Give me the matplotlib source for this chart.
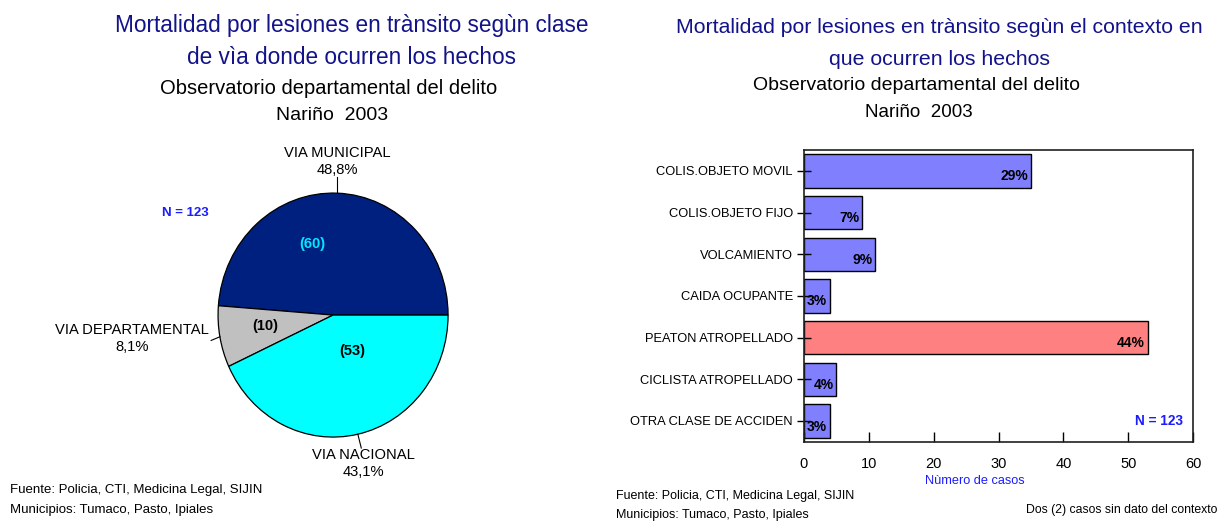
import numpy as np
import matplotlib.pyplot as plt

# ============================================================
# Datos
# ============================================================

clases_via = ["VIA MUNICIPAL", "VIA DEPARTAMENTAL", "VIA NACIONAL"]
casos_via = [60, 10, 53]
pct_via = ["48,8%", "8,1%", "43,1%"]
colores_via = ["#00207f", "#c0c0c0", "#00ffff"]

contextos = [
    "COLIS.OBJETO MOVIL",
    "COLIS.OBJETO FIJO",
    "VOLCAMIENTO",
    "CAIDA OCUPANTE",
    "PEATON ATROPELLADO",
    "CICLISTA ATROPELLADO",
    "OTRA CLASE DE ACCIDEN",
]
casos_contexto = [35, 9, 11, 4, 53, 5, 4]
pct_contexto = ["29%", "7%", "9%", "3%", "44%", "4%", "3%"]
ticks_x = [0, 10, 20, 30, 40, 50, 60]

AZUL_TITULO = "#12128a"
AZUL_N = "#1c1cff"

plt.rcParams["font.family"] = ["Liberation Sans", "DejaVu Sans"]

fig = plt.figure(figsize=(12.2, 5.21), dpi=100)

# ============================================================
# Títulos
# ============================================================

fig.text(0.288, 0.952, "Mortalidad por lesiones en trànsito segùn clase",
         ha="center", va="center", fontsize=16.3, color=AZUL_TITULO)
fig.text(0.288, 0.889, "de vìa donde ocurren los hechos",
         ha="center", va="center", fontsize=16.3, color=AZUL_TITULO)
fig.text(0.269, 0.831, "Observatorio departamental del delito",
         ha="center", va="center", fontsize=14.5)
fig.text(0.272, 0.779, "Nariño  2003",
         ha="center", va="center", fontsize=14)

fig.text(0.770, 0.948, "Mortalidad por lesiones en trànsito segùn el contexto en",
         ha="center", va="center", fontsize=15.3, color=AZUL_TITULO)
fig.text(0.770, 0.885, "que ocurren los hechos",
         ha="center", va="center", fontsize=15.3, color=AZUL_TITULO)
fig.text(0.751, 0.835, "Observatorio departamental del delito",
         ha="center", va="center", fontsize=14)
fig.text(0.753, 0.785, "Nariño  2003",
         ha="center", va="center", fontsize=13.5)

# ============================================================
# Gráfico de torta
# ============================================================

ax_pie = fig.add_axes([0.1316, 0.044, 0.2828, 0.7025])
wedges, _ = ax_pie.pie(
    casos_via,
    colors=colores_via,
    startangle=0,
    counterclock=True,
    wedgeprops=dict(edgecolor="black", linewidth=0.9),
)
ax_pie.set_xlim(-1.5, 1.5)
ax_pie.set_ylim(-1.5, 1.5)
ax_pie.set_aspect("auto")
ax_pie.axis("off")

# conteos dentro de cada porción
radios_conteo = [0.6, 0.6, 0.32]
ajuste_conteo = [(-0.2, -0.02), (0.0, 0.02), (0.1, 0.02)]
colores_conteo = ["#00e8ff", "black", "black"]
for w, n, r, (dx, dy), c in zip(wedges, casos_via, radios_conteo,
                                ajuste_conteo, colores_conteo):
    ang = np.deg2rad((w.theta1 + w.theta2) / 2)
    ax_pie.text(r * np.cos(ang) + dx, r * np.sin(ang) + dy, f"({n})",
                ha="center", va="center", fontsize=10.5, fontweight="bold",
                color=c)

# etiquetas externas con línea guía
pos_etiquetas = [(0.0, 1.13, "center", "bottom"),
                 (-1.08, -0.19, "right", "center"),
                 (0.26, -1.09, "center", "top")]
for w, nombre, pct, (tx, ty, ha, va) in zip(wedges, clases_via, pct_via,
                                            pos_etiquetas):
    ang = np.deg2rad((w.theta1 + w.theta2) / 2)
    ex, ey = np.cos(ang), np.sin(ang)
    if va == "bottom":
        fin = (ex, ty)
    elif va == "top":
        fin = (ex + 0.03, ty)
    else:
        fin = (tx + 0.02, ey - 0.03)
    ax_pie.plot([ex, fin[0]], [ey, fin[1]], color="black", lw=0.8)
    ax_pie.text(tx + (ex if va == "bottom" else 0), ty, f"{nombre}\n{pct}",
                ha=ha, va=va, multialignment="center", fontsize=10.6,
                linespacing=1.3)

fig.text(0.152, 0.591, "N = 123", ha="center", va="center", fontsize=9.5,
         fontweight="bold", color=AZUL_N)

fig.text(0.008, 0.059, "Fuente: Policia, CTI, Medicina Legal, SIJIN",
         ha="left", va="center", fontsize=9.5)
fig.text(0.008, 0.022, "Municipios: Tumaco, Pasto, Ipiales",
         ha="left", va="center", fontsize=9.5)

# ============================================================
# Gráfico de barras
# ============================================================

ax_bar = fig.add_axes([0.659, 0.152, 0.319, 0.560])
y = np.arange(len(contextos))
colores_barras = ["#ff8080" if c == "PEATON ATROPELLADO" else "#8080ff"
                  for c in contextos]
barras = ax_bar.barh(y, casos_contexto, height=0.8, color=colores_barras,
                     edgecolor="black", linewidth=1.0)
ax_bar.set_ylim(6.5, -0.5)
ax_bar.set_xlim(0, 60)
ax_bar.set_yticks(y)
ax_bar.set_yticklabels(contextos, fontsize=9.3)
ax_bar.set_xticks(ticks_x)
ax_bar.set_xticklabels([str(t) for t in ticks_x], fontsize=10.5)
ax_bar.tick_params(axis="y", direction="inout", length=10, width=1,
                   pad=3)
ax_bar.tick_params(axis="x", direction="in", length=7, width=1, pad=11)
for s in ax_bar.spines.values():
    s.set_linewidth(1.2)
    s.set_color("#202020")

for b, pct in zip(barras, pct_contexto):
    ax_bar.annotate(pct, xy=(b.get_width(), b.get_y() + b.get_height() / 2),
                    xytext=(-2, -4), textcoords="offset points",
                    ha="right", va="center", fontsize=10, fontweight="bold")

ax_bar.text(0.975, 0.07, "N = 123", transform=ax_bar.transAxes,
            ha="right", va="center", fontsize=9.8, fontweight="bold",
            color=AZUL_N)
ax_bar.set_xlabel("Nùmero de casos", color=AZUL_N, fontsize=9.2)
ax_bar.xaxis.set_label_coords(0.44, -0.115)

fig.text(0.505, 0.048, "Fuente: Policia, CTI, Medicina Legal, SIJIN",
         ha="left", va="center", fontsize=9)
fig.text(0.505, 0.011, "Municipios: Tumaco, Pasto, Ipiales",
         ha="left", va="center", fontsize=9)
fig.text(0.998, 0.021, "Dos (2) casos sin dato del contexto",
         ha="right", va="center", fontsize=8.8)

fig.savefig("out.png", dpi=100)
